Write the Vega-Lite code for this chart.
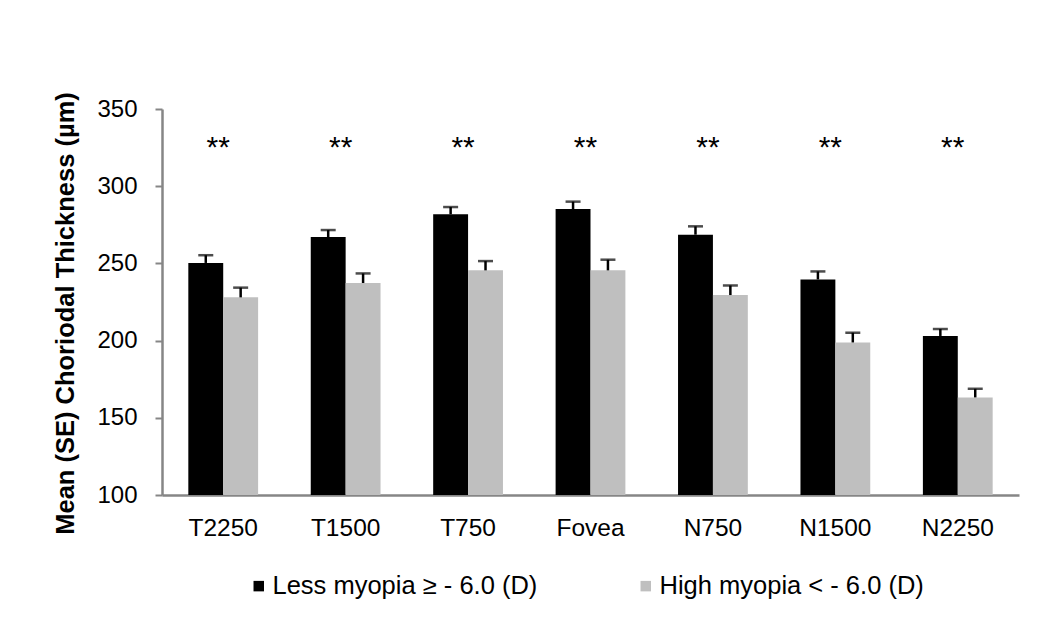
{
  "$schema": "https://vega.github.io/schema/vega-lite/v6.json",
  "autosize": "none",
  "width": 857,
  "height": 386,
  "padding": {"left": 162, "top": 109, "right": 23, "bottom": 139},
  "background": "white",
  "config": {"view": {"stroke": null}, "font": "Liberation Sans"},
  "datasets": {
    "bars": [
      {"loc": "T2250", "group": "Less myopia ≥ - 6.0 (D)", "mean": 250.3, "se": 5.0},
      {"loc": "T2250", "group": "High myopia < - 6.0 (D)", "mean": 228.0, "se": 6.3},
      {"loc": "T1500", "group": "Less myopia ≥ - 6.0 (D)", "mean": 267.1, "se": 4.5},
      {"loc": "T1500", "group": "High myopia < - 6.0 (D)", "mean": 237.3, "se": 6.2},
      {"loc": "T750", "group": "Less myopia ≥ - 6.0 (D)", "mean": 281.8, "se": 4.7},
      {"loc": "T750", "group": "High myopia < - 6.0 (D)", "mean": 245.5, "se": 6.0},
      {"loc": "Fovea", "group": "Less myopia ≥ - 6.0 (D)", "mean": 285.2, "se": 4.8},
      {"loc": "Fovea", "group": "High myopia < - 6.0 (D)", "mean": 245.5, "se": 6.9},
      {"loc": "N750", "group": "Less myopia ≥ - 6.0 (D)", "mean": 268.6, "se": 5.4},
      {"loc": "N750", "group": "High myopia < - 6.0 (D)", "mean": 229.5, "se": 6.2},
      {"loc": "N1500", "group": "Less myopia ≥ - 6.0 (D)", "mean": 239.6, "se": 5.2},
      {"loc": "N1500", "group": "High myopia < - 6.0 (D)", "mean": 198.8, "se": 6.3},
      {"loc": "N2250", "group": "Less myopia ≥ - 6.0 (D)", "mean": 203.0, "se": 4.5},
      {"loc": "N2250", "group": "High myopia < - 6.0 (D)", "mean": 163.2, "se": 5.6}
    ],
    "sig": [
      {"loc": "T2250", "label": "**", "y": 328},
      {"loc": "T1500", "label": "**", "y": 328},
      {"loc": "T750", "label": "**", "y": 328},
      {"loc": "Fovea", "label": "**", "y": 328},
      {"loc": "N750", "label": "**", "y": 328},
      {"loc": "N1500", "label": "**", "y": 328},
      {"loc": "N2250", "label": "**", "y": 328}
    ]
  },
  "layer": [
    {
      "data": {"name": "bars"},
      "transform": [{"calculate": "datum.mean + datum.se", "as": "upper"}],
      "layer": [
        {
          "mark": {"type": "bar"},
          "encoding": {
            "x": {
              "field": "loc", "type": "nominal",
              "sort": ["T2250", "T1500", "T750", "Fovea", "N750", "N1500", "N2250"],
              "scale": {"paddingInner": 0.43, "paddingOuter": 0.215},
              "axis": {
                "title": null, "labelAngle": 0, "ticks": false,
                "domainColor": "#868686", "domainWidth": 2.5,
                "labelFontSize": 24.5, "labelColor": "#000000", "labelPadding": 21
              }
            },
            "xOffset": {
              "field": "group", "type": "nominal",
              "scale": {"domain": ["Less myopia ≥ - 6.0 (D)", "High myopia < - 6.0 (D)"], "paddingInner": 0, "paddingOuter": 0}
            },
            "y": {
              "field": "mean", "type": "quantitative",
              "scale": {"domain": [100, 350], "zero": false, "nice": false},
              "axis": {
                "title": "Mean (SE) Choriodal Thickness (µm)",
                "values": [100, 150, 200, 250, 300, 350],
                "grid": false,
                "domainColor": "#868686", "domainWidth": 2.5,
                "tickColor": "#868686", "tickWidth": 2, "tickSize": 7,
                "labelFontSize": 24, "labelColor": "#000000", "labelPadding": 18,
                "titleFontSize": 25.5, "titleFontWeight": "bold", "titleColor": "#000000", "titlePadding": 18,
                "titleY": 204
              }
            },
            "y2": {"datum": 100},
            "color": {
              "field": "group", "type": "nominal",
              "scale": {"domain": ["Less myopia ≥ - 6.0 (D)", "High myopia < - 6.0 (D)"], "range": ["#000000", "#BFBFBF"]},
              "legend": {
                "title": null, "orient": "none", "direction": "horizontal",
                "legendX": 84, "legendY": 464, "padding": 0,
                "symbolType": "square", "symbolSize": 110, "symbolStrokeWidth": 0,
                "labelFontSize": 25.5, "labelColor": "#000000", "labelOffset": 1,
                "columnPadding": 95, "labelLimit": 400
              }
            }
          }
        },
        {
          "mark": {"type": "rule", "color": "#000000", "strokeWidth": 2.5},
          "encoding": {
            "x": {"field": "loc", "type": "nominal", "sort": ["T2250", "T1500", "T750", "Fovea", "N750", "N1500", "N2250"]},
            "xOffset": {"field": "group", "type": "nominal"},
            "y": {"field": "mean", "type": "quantitative"},
            "y2": {"field": "upper"}
          }
        },
        {
          "mark": {"type": "tick", "color": "#000000", "thickness": 2.5, "size": 15, "orient": "horizontal"},
          "encoding": {
            "x": {"field": "loc", "type": "nominal", "sort": ["T2250", "T1500", "T750", "Fovea", "N750", "N1500", "N2250"]},
            "xOffset": {"field": "group", "type": "nominal"},
            "y": {"field": "upper", "type": "quantitative"}
          }
        }
      ]
    },
    {
      "data": {"name": "sig"},
      "mark": {"type": "text", "fontSize": 30, "baseline": "middle", "align": "center", "dx": -5, "dy": 5, "color": "#000000"},
      "encoding": {
        "x": {"field": "loc", "type": "nominal", "sort": ["T2250", "T1500", "T750", "Fovea", "N750", "N1500", "N2250"]},
        "y": {"field": "y", "type": "quantitative"},
        "text": {"field": "label"}
      }
    }
  ]
}
